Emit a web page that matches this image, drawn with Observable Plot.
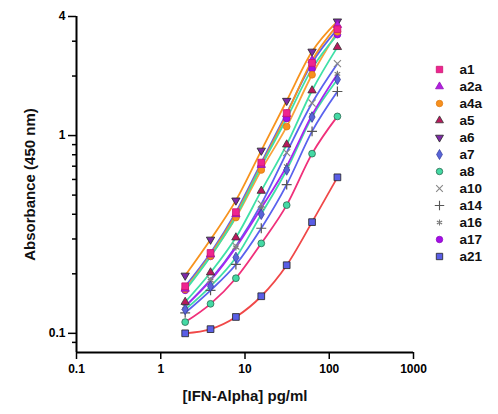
<!DOCTYPE html>
<html>
<head>
<meta charset="utf-8">
<script src="https://cdn.jsdelivr.net/npm/d3@7"></script>
<script src="https://cdn.jsdelivr.net/npm/@observablehq/plot@0.6"></script>
<style>
  body { margin: 0; background: #fff; font-family: "Liberation Sans", Arial, sans-serif; }
  #wrap { position: relative; width: 498px; height: 414px; }
  #legend { position: absolute; left: 410px; top: 0; }
</style>
</head>
<body>
<div id="wrap"><div id="chart"></div><div id="legend"></div></div>
<script>
// concentrations (pg/ml) and absorbance
const conc = [1.95, 3.9, 7.8, 15.6, 31.25, 62.5, 125];

const a1  = [0.173, 0.255, 0.41, 0.73, 1.30, 2.33, 3.45];
const a2a = [0.168, 0.25, 0.40, 0.71, 1.28, 2.40, 3.62];
const a4a = [0.167, 0.246, 0.385, 0.67, 1.11, 2.03, 3.35];
const a5  = [0.144, 0.203, 0.305, 0.525, 0.90, 1.69, 2.80];
const a6  = [0.196, 0.298, 0.47, 0.84, 1.50, 2.66, 3.78];
const a7  = [0.132, 0.173, 0.242, 0.40, 0.67, 1.24, 1.92];
const a8  = [0.114, 0.141, 0.19, 0.285, 0.445, 0.81, 1.25];
const a10 = [0.137, 0.187, 0.276, 0.45, 0.82, 1.46, 2.31];
const a14 = [0.127, 0.165, 0.223, 0.34, 0.565, 1.05, 1.67];
const a16 = [0.137, 0.185, 0.272, 0.43, 0.70, 1.27, 2.05];
const a17 = [0.165, 0.245, 0.39, 0.70, 1.22, 2.18, 3.24];
const a21 = [0.100, 0.105, 0.121, 0.154, 0.221, 0.365, 0.615];

const names = ["a1", "a2a", "a4a", "a5", "a6", "a7", "a8", "a10", "a14", "a16", "a17", "a21"];
const values = [a1, a2a, a4a, a5, a6, a7, a8, a10, a14, a16, a17, a21];

const xTicks = [0.1, 1, 10, 100, 1000];
const yTicks = [0.1, 1, 4];
const yMinor = [0.09, 0.2, 0.3, 0.4, 0.5, 0.6, 0.7, 0.8, 0.9, 2, 3];

// downward triangle for a6
const triangleDown = {
  draw(context, size) {
    const y = -Math.sqrt(size / (Math.sqrt(3) * 3));
    context.moveTo(0, -y * 2);
    context.lineTo(-Math.sqrt(3) * y, y);
    context.lineTo(Math.sqrt(3) * y, y);
    context.closePath();
  }
};

const look = {
  a1:  {symbol: "square",   r: 3.8, fill: "#ee2490", stroke: "#c8146e", line: "#5a62ee"},
  a2a: {symbol: "triangle", r: 3.1, fill: "#b31fe0", stroke: "#9010b8", line: "#f7931e"},
  a4a: {symbol: "circle",   r: 3.4, fill: "#f7901e", stroke: "#e07a10", line: "#f9a13a"},
  a5:  {symbol: "triangle", r: 3.1, fill: "#b8195c", stroke: "#333",    line: "#3fe0a8"},
  a6:  {symbol: triangleDown, r: 3.1, fill: "#7e2aa8", stroke: "#222", line: "#f7931e"},
  a7:  {symbol: "diamond",  r: 3.2, fill: "#5865d8", stroke: "#3a3fa0", line: "#3fe0a8"},
  a8:  {symbol: "circle",   r: 3.4, fill: "#44d9a4", stroke: "#2a6a50", line: "#f0307a"},
  a10: {symbol: "times",    r: 3.3, fill: "none",    stroke: "#888",    line: "#5a62ee"},
  a14: {symbol: "plus",     r: 3.3, fill: "none",    stroke: "#555",    line: "#5a62ee"},
  a16: {symbol: "asterisk", r: 3.0, fill: "none",    stroke: "#777",    line: "#a626f0"},
  a17: {symbol: "circle",   r: 3.4, fill: "#a40ee6", stroke: "#8a08c0", line: "#3fe0a8"},
  a21: {symbol: "square",   r: 3.8, fill: "#5a5ee6", stroke: "#222",    line: "#f04848"}
};

const rows = names.flatMap((name, i) => conc.map((c, j) => ({name, conc: c, abs: values[i][j]})));

const lineMarks = names.map(name =>
  Plot.line(rows.filter(d => d.name === name), {
    x: "conc", y: "abs", stroke: look[name].line, strokeWidth: 1.8, curve: "monotone-x"
  })
);

const dotMarks = names.slice().reverse().map(name =>
  Plot.dot(rows.filter(d => d.name === name), {
    x: "conc", y: "abs", r: look[name].r,
    symbol: () => look[name].symbol,
    fill: look[name].fill, stroke: look[name].stroke, strokeWidth: look[name].fill === "none" ? 1.2 : 0.8
  })
);

const chart = Plot.plot({
  width: 498,
  height: 414,
  marginLeft: 76,
  marginRight: 85,
  marginTop: 16,
  marginBottom: 62,
  x: {type: "log", domain: [0.1, 1000]},
  y: {type: "log", domain: [0.08, 4]},
  symbol: {type: "identity"},
  style: {fontFamily: "Liberation Sans, Arial, sans-serif", fontWeight: "bold", fontSize: "12px", color: "black"},
  marks: [
    ...lineMarks,
    ...dotMarks,
    Plot.axisY({ticks: yMinor, tickSize: 4, strokeWidth: 1.5, tickFormat: () => "", label: null}),
    Plot.axisY({ticks: yTicks, tickSize: 8, tickPadding: 3, strokeWidth: 1.5, tickFormat: d => String(d), label: null}),
    Plot.axisX({ticks: xTicks, tickSize: 7, tickPadding: 5, strokeWidth: 1.5, tickFormat: d => String(d), label: null}),
    Plot.ruleX([0.1], {stroke: "black", strokeWidth: 2}),
    Plot.ruleY([0.08], {stroke: "black", strokeWidth: 2}),
    Plot.text(["[IFN-Alpha] pg/ml"], {frameAnchor: "bottom", dy: 48, fontSize: 15, fontWeight: "bold", fill: "#111"}),
    Plot.text(["Absorbance (450 nm)"], {frameAnchor: "left", dx: -46, rotate: -90, textAnchor: "middle", fontSize: 15, fontWeight: "bold", fill: "#111"})
  ]
});
d3.select("#chart").append(() => chart);

const legend = Plot.plot({
  width: 88,
  height: 290,
  marginTop: 55,
  marginBottom: 20,
  marginLeft: 29,
  marginRight: 0,
  x: {axis: null},
  y: {type: "point", domain: names, axis: null},
  symbol: {type: "identity"},
  style: {fontFamily: "Liberation Sans, Arial, sans-serif", fontWeight: "bold", fontSize: "13.5px", color: "black"},
  marks: [
    ...names.map(name => Plot.dot([name], {
      y: d => d, frameAnchor: "left", r: look[name].r * 0.95,
      symbol: () => look[name].symbol,
      fill: look[name].fill, stroke: look[name].stroke, strokeWidth: look[name].fill === "none" ? 1.1 : 0.8
    })),
    Plot.text(names, {y: d => d, frameAnchor: "left", dx: 20, text: d => d, textAnchor: "start", fill: "#111"})
  ]
});
d3.select("#legend").append(() => legend);
</script>
</body>
</html>
